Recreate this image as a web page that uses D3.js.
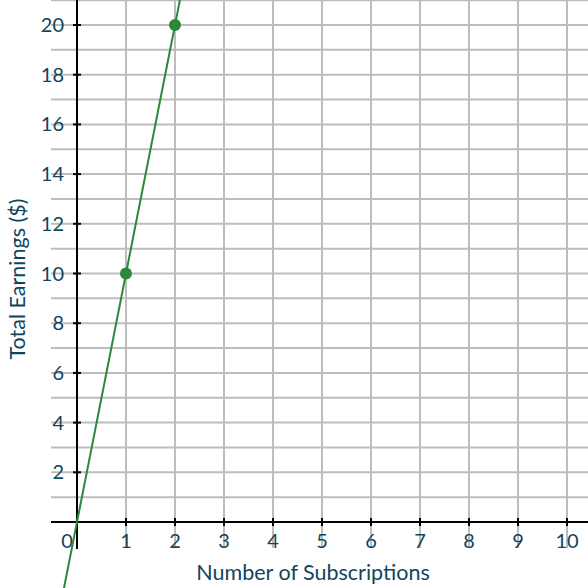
<!DOCTYPE html>
<html><head><meta charset="utf-8">
<script src="https://cdn.jsdelivr.net/npm/d3@7"></script>
<style>body{margin:0;background:#fff}svg{display:block}</style>
</head><body>
<script>
const xTicks = [0,1,2,3,4,5,6,7,8,9,10];
const yTicks = [2,4,6,8,10,12,14,16,18,20];
const yGrid = [1,2,3,4,5,6,7,8,9,10,11,12,13,14,15,16,17,18,19,20,21];
const pointsX = [1,2];
const pointsY = [10,20];
const slope = 10;
const xTitle = "Number of Subscriptions";
const yTitle = "Total Earnings ($)";

const W=588,H=588;
const x = d3.scaleLinear().domain([0,10]).range([77,567]);
const y = d3.scaleLinear().domain([0,20]).range([522,25]);
const txt = "#12455c";
const svg = d3.select("body").append("svg").attr("width",W).attr("height",H);

// grid
svg.append("g").selectAll("line").data(xTicks.filter(d=>d>0)).join("line")
  .attr("x1",d=>x(d)).attr("x2",d=>x(d)).attr("y1",0).attr("y2",548)
  .attr("stroke","#bdbdbd").attr("stroke-width",2);
svg.append("g").selectAll("line").data(yGrid).join("line")
  .attr("x1",51).attr("x2",W).attr("y1",d=>y(d)).attr("y2",d=>y(d))
  .attr("stroke","#bdbdbd").attr("stroke-width",2);

// axes
svg.append("line").attr("x1",51).attr("x2",W).attr("y1",y(0)).attr("y2",y(0)).attr("stroke","#000").attr("stroke-width",2);
svg.append("line").attr("x1",x(0)).attr("x2",x(0)).attr("y1",0).attr("y2",549).attr("stroke","#000").attr("stroke-width",2);
svg.append("g").selectAll("line").data(xTicks.filter(d=>d>0)).join("line")
  .attr("x1",d=>x(d)).attr("x2",d=>x(d)).attr("y1",y(0)-4).attr("y2",y(0)+4).attr("stroke","#000").attr("stroke-width",2);
svg.append("g").selectAll("line").data(yTicks).join("line")
  .attr("x1",x(0)-4).attr("x2",x(0)+4).attr("y1",d=>y(d)).attr("y2",d=>y(d)).attr("stroke","#000").attr("stroke-width",2);

// tick labels
svg.append("g").selectAll("text").data(xTicks).join("text")
  .attr("x",d=>d===0?x(0)-10:x(d)).attr("y",548).attr("text-anchor","middle")
  .attr("font-family","Lato, sans-serif").attr("font-size",20).attr("fill",txt).text(d=>d);
svg.append("g").selectAll("text").data(yTicks).join("text")
  .attr("x",64).attr("y",d=>y(d)+7).attr("text-anchor","end")
  .attr("font-family","Lato, sans-serif").attr("font-size",20).attr("fill",txt).text(d=>d);

// titles
svg.append("text").attr("x",313).attr("y",580).attr("text-anchor","middle")
  .attr("font-family","Lato, sans-serif").attr("font-size",21.5).attr("fill",txt).text(xTitle);
svg.append("text").attr("transform","translate(25,279) rotate(-90)").attr("text-anchor","middle")
  .attr("font-family","Lato, sans-serif").attr("font-size",21.5).attr("fill",txt).text(yTitle);

// line
const ya = y.invert(H+10), yb = y.invert(-10);
svg.append("line").attr("x1",x(ya/slope)).attr("y1",y(ya)).attr("x2",x(yb/slope)).attr("y2",y(yb))
  .attr("stroke","#2a8a3a").attr("stroke-width",2);
svg.append("g").selectAll("circle").data(pointsX).join("circle")
  .attr("cx",d=>x(d)).attr("cy",(d,i)=>y(pointsY[i])).attr("r",6).attr("fill","#2a8a3a");
</script>
</body></html>
